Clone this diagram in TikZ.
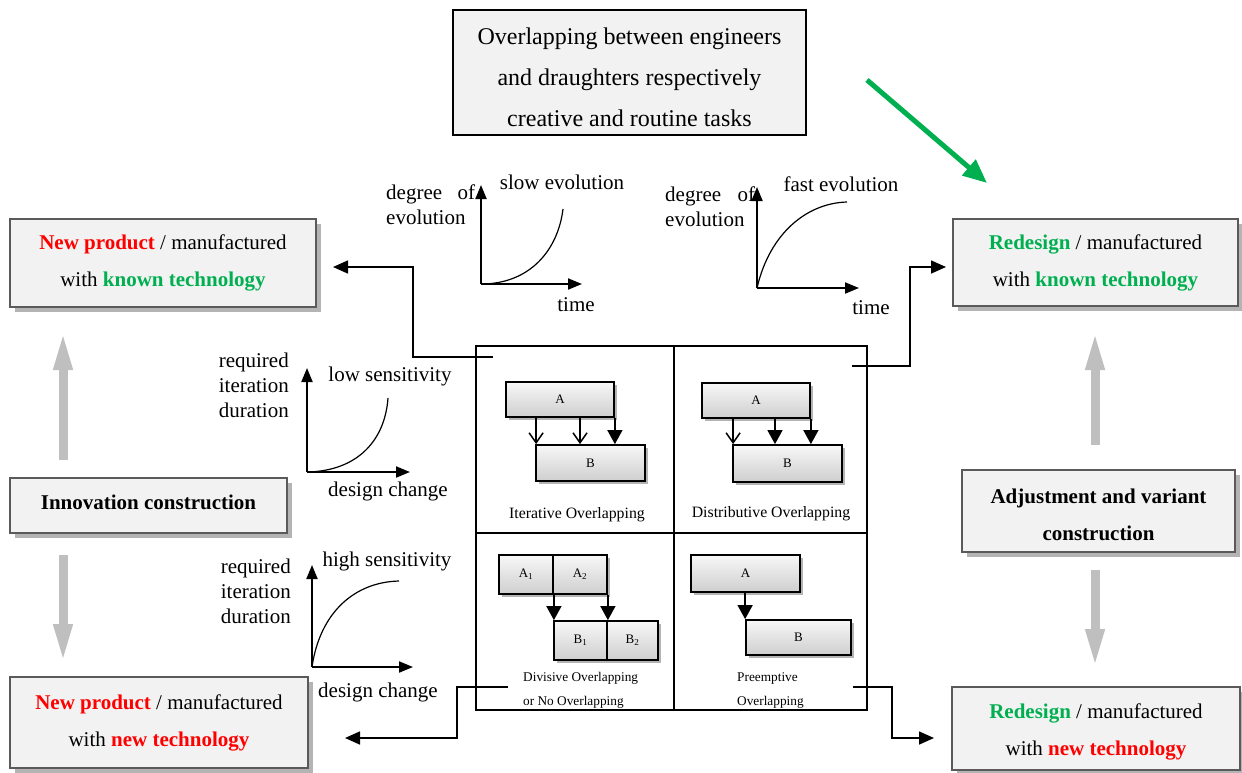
\documentclass[tikz,border=0pt]{standalone}
\usepackage{fontspec}
\setmainfont{Liberation Serif}
\usetikzlibrary{arrows.meta,shadows,calc}
\definecolor{boxfill}{HTML}{F2F2F2}
\definecolor{boxline}{HTML}{5A5A5A}
\definecolor{shadowgrey}{HTML}{B4B4B4}
\definecolor{hotred}{HTML}{FF0000}
\definecolor{leafgreen}{HTML}{00B050}
\definecolor{arrowgrey}{HTML}{BFBFBF}
\newcommand{\red}[1]{\textcolor{hotred}{\textbf{#1}}}
\newcommand{\grn}[1]{\textcolor{leafgreen}{\textbf{#1}}}
\begin{document}
\begin{tikzpicture}[x=1pt,y=-1pt,
  panel/.style={draw=boxline, line width=2.6pt, fill=boxfill, inner sep=0pt, align=center,
    font=\fontsize{21}{37}\selectfont,
    drop shadow={shadow xshift=5pt, shadow yshift=-5pt, fill=shadowgrey, opacity=1}},
  inside/.style={inner sep=0pt, align=center, font=\fontsize{21}{37}\selectfont},
  qbox/.style={draw=black, line width=1.8pt, top color=gray!6, bottom color=gray!38,
    inner sep=0pt, font=\fontsize{13}{13}\selectfont,
    drop shadow={shadow xshift=3pt, shadow yshift=-3pt, fill=shadowgrey, opacity=1}},
  qlabel/.style={inner sep=0pt, font=\fontsize{15.8}{18}\selectfont},
  qsmall/.style={inner sep=0pt, align=left, anchor=west, font=\fontsize{13.3}{24}\selectfont},
  glabel/.style={inner sep=0pt, font=\fontsize{21}{25}\selectfont},
  axis/.style={line width=2pt, -{Triangle[length=14pt,width=11pt]}},
  curve/.style={line width=1.2pt},
  conn/.style={line width=1.6pt, -{Triangle[length=15pt,width=13pt]}},
  openarr/.style={line width=1.5pt, -{Straight Barb[length=10pt,width=14pt]}},
  fullarr/.style={line width=1.5pt, -{Triangle[length=14pt,width=15pt]}},
  greyarrow/.style={draw=arrowgrey, line width=9pt, -{Triangle[length=40pt,width=17pt]}},
]
\useasboundingbox (0,0) rectangle (1242,772);

% ---- heading box and green pointer ----
\node[draw=black, line width=2pt, fill=boxfill, inner sep=0pt,
  minimum width=353pt, minimum height=125pt] (head) at (629.5,72.5) {};
\node[inside, font=\fontsize{24}{41}\selectfont] (headtext) at ([yshift=-5pt]head.center)
  {Overlapping between engineers\\and draughters respectively\\creative and routine tasks};
\coordinate (gs) at (867,80);
\coordinate (ge) at (987,183);
\draw[draw=leafgreen, line width=5pt, -{Triangle[length=24pt,width=20pt]}] (gs) -- (ge);

% ---- outcome boxes ----
\node[panel, minimum width=306pt, minimum height=88pt] (nk) at (163,263)
  {\red{New product} / manufactured\\with \grn{known technology}};
\node[panel, minimum width=285pt, minimum height=87pt] (rk) at (1095.5,262.5)
  {\grn{Redesign} / manufactured\\with \grn{known technology}};
\node[panel, minimum width=298pt, minimum height=91pt] (nn) at (159,722.5)
  {\red{New product} / manufactured\\with \red{new technology}};
\node[panel, minimum width=288pt, minimum height=83pt] (rn) at (1096,728.5) {};
\node[inside] (rntext) at ([yshift=-3pt]rn.center)
  {\grn{Redesign} / manufactured\\with \red{new technology}};

% ---- construction types ----
\node[panel, minimum width=277pt, minimum height=55pt] (inn) at (148.5,505.5) {};
\node[inside, font=\fontsize{21}{37}\bfseries] (inntext) at ([yshift=3pt]inn.center)
  {Innovation construction};
\node[panel, minimum width=273pt, minimum height=82pt] (adj) at (1098.5,511) {};
\node[inside, font=\fontsize{21}{37}\bfseries] (adjtext) at ([yshift=-4pt]adj.center)
  {Adjustment and variant\\construction};

% ---- grey arrows ----
\coordinate (g1s) at (63,460);  \coordinate (g1e) at (63,330);
\coordinate (g2s) at (63,555);  \coordinate (g2e) at (63,664);
\coordinate (g3s) at (1095,445); \coordinate (g3e) at (1095,330);
\coordinate (g4s) at (1095,570); \coordinate (g4e) at (1095,669);
\draw[greyarrow] (g1s) -- (g1e);
\draw[greyarrow] (g2s) -- (g2e);
\draw[greyarrow] (g3s) -- (g3e);
\draw[greyarrow] (g4s) -- (g4e);

% ---- overlapping matrix ----
\node[draw=black, line width=1.8pt, inner sep=0pt, minimum width=391pt, minimum height=364pt]
  (grid) at (671.5,528) {};
\draw[line width=1.8pt] (674,346) -- (674,710);
\draw[line width=1.8pt] (476,533) -- (867,533);

% iterative
\node[qbox, minimum width=108pt, minimum height=35pt] (a1) at (560,399.5) {A};
\node[qbox, minimum width=109pt, minimum height=36pt] (b1) at (590.5,463) {B};
\draw[openarr] ([xshift=1pt]a1.south -| b1.west) -- ([xshift=1pt]b1.north west);
\draw[openarr] ([xshift=20pt]a1.south) -- ([xshift=20pt]a1.south |- b1.north);
\draw[fullarr] (a1.south east) -- (a1.south east |- b1.north);
\node[qlabel] (l1) at (577,515) {Iterative Overlapping};

% distributive
\node[qbox, minimum width=108pt, minimum height=35pt] (a2) at (756,400.5) {A};
\node[qbox, minimum width=109pt, minimum height=37pt] (b2) at (787.5,463.5) {B};
\draw[openarr] ([xshift=1pt]a2.south -| b2.west) -- ([xshift=1pt]b2.north west);
\draw[fullarr] ([xshift=19pt]a2.south) -- ([xshift=19pt]a2.south |- b2.north);
\draw[fullarr] (a2.south east) -- (a2.south east |- b2.north);
\node[qlabel] (l2) at (771,514) {Distributive Overlapping};

% divisive
\node[qbox, minimum width=54pt, minimum height=39pt] (a31) at (526,574.5) {A\textsubscript{1}};
\node[qbox, minimum width=54pt, minimum height=39pt] (a32) at (580,574.5) {A\textsubscript{2}};
\node[qbox, minimum width=53pt, minimum height=39pt] (b31) at (580.5,640.5) {B\textsubscript{1}};
\node[qbox, minimum width=51pt, minimum height=39pt] (b32) at (632.5,640.5) {B\textsubscript{2}};
\draw[fullarr] (a31.south east) -- (a31.south east |- b31.north);
\draw[fullarr] (a32.south east) -- (a32.south east |- b32.north);
\node[qsmall] (l3) at (523,690) {Divisive Overlapping\\or No Overlapping};

% preemptive
\node[qbox, minimum width=109pt, minimum height=37pt] (a4) at (745.5,573.5) {A};
\node[qbox, minimum width=105pt, minimum height=35pt] (b4) at (798.5,637.5) {B};
\draw[fullarr] (a4.south -| b4.west) -- (b4.north west);
\node[qsmall] (l4) at (737,691) {Preemptive\\Overlapping};

% ---- connectors from the matrix to the outcomes ----
\coordinate (cTL) at (493,357); \coordinate (eTL) at (333,267);
\coordinate (cTR) at (852,366); \coordinate (eTR) at (946,267);
\coordinate (cBL) at (508,687); \coordinate (eBL) at (345,738);
\coordinate (cBR) at (853,687); \coordinate (eBR) at (934,738);
\draw[conn] (cTL) -- ++(-80,0) |- (eTL);
\draw[conn] (cTR) -- ++(58,0) |- (eTR);
\draw[conn] (cBL) -- ++(-51,0) |- (eBL);
\draw[conn] (cBR) -- ++(39,0) |- (eBR);

% ---- slow evolution ----
\coordinate (o1) at (481,284);
\draw[axis] (o1) -- ++(0,-99);
\draw[axis] (o1) -- ++(101,0);
\draw[curve] (o1) .. controls (530,284) and (558,250) .. (563,209);
\node[glabel] (t1) at (562,182) {slow evolution};
\node[glabel, anchor=west, align=left] (d1) at (386,205) {\makebox[89pt][s]{degree of}\\evolution};
\node[glabel] (x1) at (576,305) {time};

% ---- fast evolution ----
\coordinate (o2) at (757,288);
\draw[axis] (o2) -- ++(0,-101);
\draw[axis] (o2) -- ++(102,0);
\draw[curve] (o2) .. controls (770,232) and (808,203) .. (847,202);
\node[glabel] (t2) at (841,184) {fast evolution};
\node[glabel, anchor=west, align=left] (d2) at (665,207) {\makebox[90pt][s]{degree of}\\evolution};
\node[glabel] (x2) at (871,308) {time};

% ---- low sensitivity ----
\coordinate (o3) at (307,472);
\draw[axis] (o3) -- ++(0,-104);
\draw[axis] (o3) -- ++(103,0);
\draw[curve] (o3) .. controls (358,471) and (385,440) .. (388,398);
\node[glabel] (t3) at (390,376) {low sensitivity};
\node[glabel, anchor=east, align=right] (d3) at (289,385) {required\\iteration\\duration};
\node[glabel] (x3) at (388,491) {design change};

% ---- high sensitivity ----
\coordinate (o4) at (312,667);
\draw[axis] (o4) -- ++(0,-102);
\draw[axis] (o4) -- ++(101,0);
\draw[curve] (o4) .. controls (320,612) and (355,582) .. (399,581);
\node[glabel] (t4) at (387,561) {high sensitivity};
\node[glabel, anchor=east, align=right] (d4) at (291,591) {required\\iteration\\duration};
\node[glabel] (x4) at (378,692) {design change};
\end{tikzpicture}
\end{document}
